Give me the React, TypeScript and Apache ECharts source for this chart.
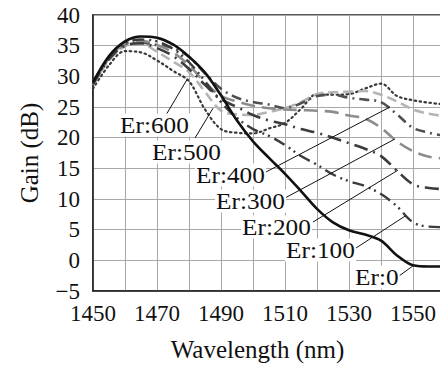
import React, { useEffect, useRef } from "react";
import * as echarts from "echarts";

// ---- data ----
const wavelengths = [1450, 1455, 1460, 1465, 1470, 1475, 1480, 1485, 1490, 1495, 1500, 1505, 1510, 1515, 1520, 1525, 1530, 1535, 1540, 1545, 1550, 1555, 1560];
const er0 = [29.0, 33.3, 35.7, 36.5, 36.3, 35.2, 33.2, 30.6, 26.9, 22.8, 19.4, 16.7, 14.1, 11.3, 8.4, 6.2, 4.9, 4.2, 3.2, 0.8, -0.8, -1.0, -1.0];
const er100 = [28.8, 33.0, 35.4, 36.0, 35.7, 34.5, 32.3, 29.2, 25.8, 23.2, 21.4, 20.3, 18.8, 17.0, 15.6, 14.0, 12.9, 12.1, 10.8, 8.8, 6.2, 5.5, 5.4];
const er200 = [28.7, 32.8, 35.0, 35.4, 34.6, 33.3, 31.2, 28.6, 26.3, 25.0, 23.7, 22.8, 22.2, 21.4, 20.8, 20.0, 19.1, 18.2, 17.0, 14.6, 12.4, 11.8, 11.6];
const er300 = [28.8, 33.0, 35.3, 35.8, 35.1, 33.9, 31.8, 29.0, 26.8, 25.9, 25.2, 24.8, 24.6, 24.5, 24.4, 24.2, 23.6, 23.1, 21.6, 19.4, 17.8, 16.9, 16.6];
const er400 = [28.9, 33.0, 35.2, 35.5, 35.1, 34.6, 33.2, 30.5, 28.0, 26.5, 25.8, 25.4, 24.8, 25.6, 26.8, 27.0, 26.5, 26.2, 25.8, 23.8, 21.6, 20.8, 20.3];
const er500 = [28.6, 32.6, 34.9, 35.3, 34.0, 32.4, 30.7, 27.5, 24.4, 23.8, 23.7, 24.2, 24.8, 25.8, 27.1, 27.4, 27.5, 27.6, 27.0, 25.9, 24.6, 23.9, 23.5];
const er600 = [28.0, 31.8, 34.1, 33.9, 32.6, 30.9, 29.2, 24.6, 21.4, 20.8, 20.7, 21.5, 22.4, 24.7, 27.1, 27.0, 27.1, 28.0, 28.8, 26.8, 26.1, 25.7, 25.4];

const seriesNames = ["Er:600", "Er:500", "Er:400", "Er:300", "Er:200", "Er:100", "Er:0"];
const seriesValues = [er600, er500, er400, er300, er200, er100, er0];

// leader targets (data coordinates on each curve)
const targetX = [1479.3, 1487.5, 1542.8, 1544.4, 1545.3, 1547.5, 1550.0];
const targetY = [29.4, 24.8, 25.0, 19.8, 14.7, 7.2, -0.9];

const xAxisTitle = "Wavelength (nm)";
const yAxisTitle = "Gain (dB)";

// ---- styles / layout ----
const FONT = "'Liberation Serif', 'DejaVu Serif', 'Times New Roman', serif";
const lineStyles: any[] = [
  { color: "#3a3a3a", width: 2.2, type: [1.5, 3.5], cap: "round" },
  { color: "#b4b4b4", width: 2.6, type: [10, 5] },
  { color: "#505050", width: 2.6, type: [10, 5, 2, 5] },
  { color: "#8c8c8c", width: 2.6, type: [14, 7] },
  { color: "#3c3c3c", width: 2.6, type: [14, 6, 2, 6] },
  { color: "#3c3c3c", width: 2.4, type: [12, 5, 2, 4, 2, 5] },
  { color: "#111111", width: 2.6, type: "solid" },
];
// label text left x, center y, leader start x, y
const labelLayout = [
  [119, 125, 166, 115],
  [151, 152, 195, 138],
  [195, 175, 266, 172],
  [215, 201, 285, 198],
  [241, 227, 313, 222],
  [285, 250, 356, 248],
  [354, 277, 399, 276],
];

export default function App() {
  const ref = useRef<HTMLDivElement>(null);
  useEffect(() => {
    const chart = echarts.init(ref.current!, null, { renderer: "svg" });
    const series = seriesNames.map((name, i) => ({
      type: "line",
      name,
      data: wavelengths.map((w, j) => [w, seriesValues[i][j]]),
      showSymbol: false,
      smooth: 0.35,
      lineStyle: lineStyles[i],
      z: 2 + i,
    }));
    chart.setOption({
      animation: false,
      backgroundColor: "#fff",
      textStyle: { fontFamily: FONT },
      grid: {
        left: 93,
        top: 15,
        right: 5,
        bottom: 74.5,
        show: true,
        borderColor: "#222",
        borderWidth: 1.5,
        backgroundColor: "transparent",
      },
      xAxis: {
        type: "value",
        min: 1450,
        max: 1560,
        interval: 10,
        name: xAxisTitle,
        nameLocation: "middle",
        nameGap: 46,
        nameTextStyle: { fontFamily: FONT, fontSize: 25, color: "#111", padding: [0, 23, 0, 0] },
        axisLine: { show: true, onZero: false, lineStyle: { color: "#222", width: 1.5 } },
        axisTick: { show: false },
        axisLabel: {
          margin: 11,
          fontFamily: FONT,
          fontSize: 23,
          color: "#111",
          formatter: (v: number) => ((v - 1450) % 20 === 0 && v < 1560 ? String(v) : ""),
        },
        splitLine: { show: true, lineStyle: { color: "#a8a8a8", width: 1 } },
      },
      yAxis: {
        type: "value",
        min: -5,
        max: 40,
        interval: 5,
        name: yAxisTitle,
        nameLocation: "middle",
        nameGap: 51,
        nameTextStyle: { fontFamily: FONT, fontSize: 25, color: "#111" },
        axisLine: { show: true, onZero: false, lineStyle: { color: "#222", width: 1.5 } },
        axisTick: { show: false },
        axisLabel: {
          margin: 13,
          fontFamily: FONT,
          fontSize: 23,
          color: "#111",
          formatter: (v: number) => (v < 0 ? "\u2212" + Math.abs(v) : String(v)),
        },
        splitLine: { show: true, lineStyle: { color: "#a8a8a8", width: 1 } },
      },
      series,
    });
    const graphic: any[] = [];
    seriesNames.forEach((name, i) => {
      const p = chart.convertToPixel({ gridIndex: 0 }, [targetX[i], targetY[i]]) as number[];
      const [tx, ty, lx, ly] = labelLayout[i];
      graphic.push({
        type: "line",
        z: 100,
        shape: { x1: lx, y1: ly, x2: p[0], y2: p[1] },
        style: { stroke: "#111", lineWidth: 1 },
      });
      graphic.push({
        type: "text",
        z: 101,
        x: tx,
        y: ty,
        scaleX: 1.1,
        style: {
          text: name,
          font: "23px " + FONT,
          fill: "#111",
          verticalAlign: "middle",
          backgroundColor: "#fff",
          padding: [0, 1],
        },
      });
    });
    chart.setOption({ graphic });
    return () => chart.dispose();
  }, []);
  return (
    <div style={{ position: "fixed", left: 0, top: 0, width: 440, height: 367, overflow: "hidden", background: "#fff" }}>
      <div ref={ref} style={{ width: 450, height: 367 }} />
    </div>
  );
}
